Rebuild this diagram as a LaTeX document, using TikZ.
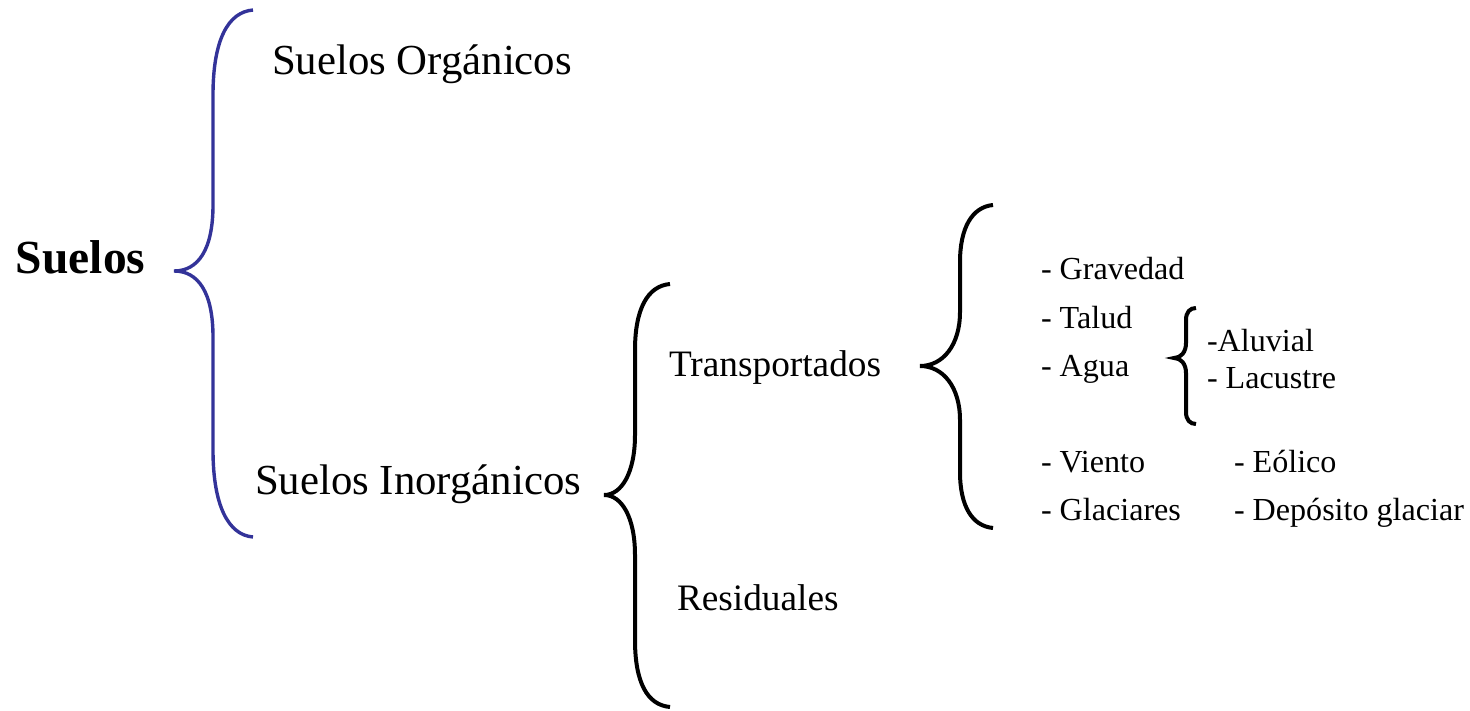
\documentclass[tikz,border=0pt]{standalone}
\usepackage{fontspec}
\setmainfont{Liberation Serif}
\definecolor{braceblue}{RGB}{51,51,153}
\tikzset{
  lbl/.style={anchor=base west, inner sep=0pt, outer sep=0pt},
  big/.style={lbl, font=\fontsize{42.8}{50}\selectfont},
  mid/.style={lbl, font=\fontsize{37.3}{44}\selectfont},
  small/.style={lbl, font=\fontsize{32.1}{38}\selectfont},
  bluebrace/.style={draw=braceblue, line width=3.4pt, line cap=butt},
  blackbrace/.style={draw=black, line width=4pt, line cap=butt},
}
\begin{document}
\begin{tikzpicture}[x=1pt, y=-1pt]
\useasboundingbox (0,0) rectangle (1470,711);

% texts
\node[lbl, font=\fontsize{47.5}{54}\selectfont\bfseries] (suelos) at (16,274) {Suelos};
\node[big] (org) at (272,75) {Suelos Orgánicos};
\node[big] (inorg) at (255,494) {Suelos Inorgánicos};
\node[mid] (trans) at (669,376) {Transportados};
\node[mid] (resid) at (677,610) {Residuales};
\node[small] (grav) at (1041,280) {- Gravedad};
\node[small] (talud) at (1041,329) {- Talud};
\node[small] (agua) at (1041,377) {- Agua};
\node[small] (aluv) at (1207,352) {-Aluvial};
\node[small] (lacus) at (1207,388) {- Lacustre};
\node[small] (viento) at (1041,472) {- Viento};
\node[small] (glac) at (1041,520) {- Glaciares};
\node[small] (eol) at (1234,472) {- Eólico};
\node[small] (depo) at (1234,520) {- Depósito glaciar};

% brace 1 (blue)
\coordinate (b1t) at (253,10);
\coordinate (b1m) at (174,271);
\coordinate (b1b) at (253,537);
\path[bluebrace] (b1t) .. controls (228,12) and (213,40) .. (213,95)
  -- (213,205) .. controls (213,250) and (198,271) .. (b1m)
  .. controls (198,271) and (213,292) .. (213,337)
  -- (213,450) .. controls (213,505) and (228,535) .. (b1b);

% brace 2
\coordinate (b2t) at (670,284);
\coordinate (b2m) at (604,495);
\coordinate (b2b) at (670,707);
\path[blackbrace] (b2t) .. controls (647,286) and (635,310) .. (635,350)
  -- (635,435) .. controls (635,472) and (622,495) .. (b2m)
  .. controls (622,495) and (635,518) .. (635,555)
  -- (635,640) .. controls (635,682) and (647,705) .. (b2b);

% brace 3
\coordinate (b3t) at (993,205);
\coordinate (b3m) at (920,366);
\coordinate (b3b) at (993,528);
\path[blackbrace] (b3t) .. controls (972,207) and (960,228) .. (960,262)
  -- (960,312) .. controls (960,345) and (943,366) .. (b3m)
  .. controls (943,366) and (960,387) .. (960,420)
  -- (960,472) .. controls (960,506) and (972,526) .. (b3b);

% brace 4 (small)
\coordinate (b4t) at (1196,308);
\coordinate (b4m) at (1174,358);
\coordinate (b4b) at (1196,424);
\path[blackbrace] (b4t) .. controls (1190,308) and (1186,312) .. (1186,320)
  -- (1186,343) .. controls (1186,352) and (1181,358) .. (b4m)
  .. controls (1181,358) and (1186,364) .. (1186,373)
  -- (1186,412) .. controls (1186,420) and (1190,424) .. (b4b);
\end{tikzpicture}
\end{document}
